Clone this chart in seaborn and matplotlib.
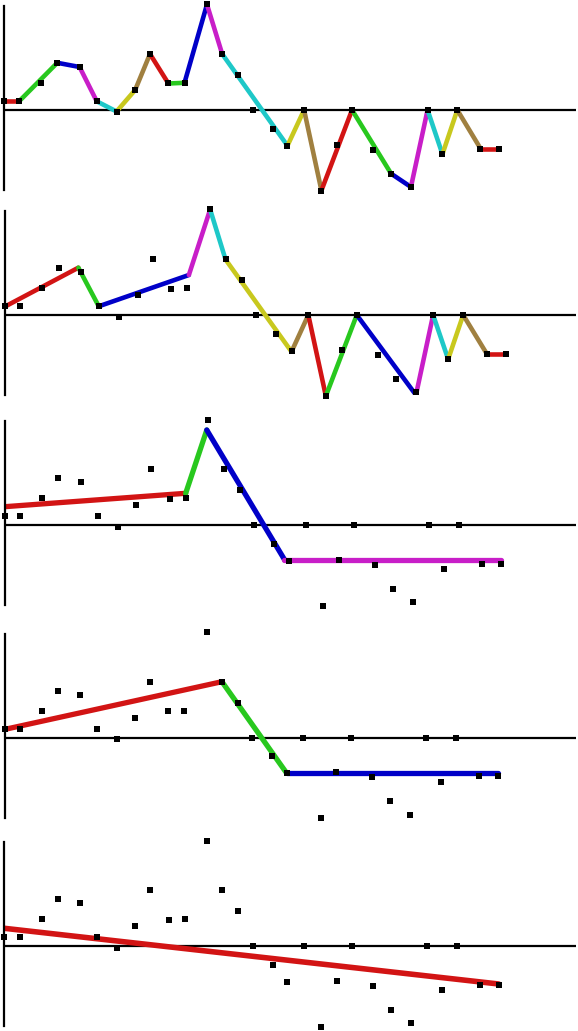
import numpy as np
import pandas as pd
import matplotlib
matplotlib.use("Agg")
import matplotlib.pyplot as plt
import seaborn as sns

# dados originais (tempo irregular)
t = [0, 0.87, 2.11, 3.03, 4.29, 5.26, 6.38, 7.43, 8.27, 9.31, 10.22, 11.49,
     12.35, 13.25, 14.07, 15.2, 16.04, 16.98, 17.96, 18.85, 19.69, 20.88,
     21.9, 23.02, 23.96, 24.8, 25.64, 26.95, 28.02]
y = [0.87, 0.87, 2.72, 4.72, 4.3, 0.87, -0.15, 2.0, 5.6, 2.65, 2.72, 10.55,
     5.6, 3.48, 0, -1.85, -3.57, 0, -8.05, -3.45, 0, -3.95, -6.37, -7.7, 0,
     -4.42, 0, -3.85, -3.85]

# nivel 1: quebras nos proprios pontos
p1_idx = [0, 1, 3, 4, 5, 6, 7, 8, 9, 10, 11, 12, 16, 17, 18, 20, 22, 23, 24,
          25, 26, 27, 28]

# niveis seguintes: quebras (t, y)
p2_t = [0, 4.12, 5.26, 10.3, 11.49, 12.35, 16.04, 16.98, 17.96, 19.69, 23.0,
        23.96, 24.8, 25.64, 26.95, 28.02]
p2_y = [0.83, 4.73, 0.87, 4.0, 10.55, 5.55, -3.67, 0, -8.1, 0, -8.0, 0,
        -4.42, 0, -3.85, -3.85]
p3_t = [0, 10.21, 11.4, 15.78, 28.02]
p3_y = [1.83, 3.17, 9.5, -3.45, -3.45]
p4_t = [0, 12.35, 16.04, 28.02]
p4_y = [0.83, 5.6, -3.57, -3.57]
p5_t = [0, 28.02]
p5_y = [1.77, -3.8]

cores = ["#d21414", "#28c81e", "#0000c8", "#c81ec8", "#1ec8c8", "#c8c81e",
         "#a08040"]

paineis = [
    ([t[i] for i in p1_idx], [y[i] for i in p1_idx]),
    (p2_t, p2_y),
    (p3_t, p3_y),
    (p4_t, p4_y),
    (p5_t, p5_y),
]

# layout em pixels (figura 578x1031)
W, H = 578, 1031
zeros_px = [110, 315, 525, 737.7, 946]
esq_px = [3.7, 4.7, 4.7, 4.7, 4.4]
xmax = [32.35, 31.95, 32.23, 32.48, 32.4]
espessura = [3.3, 3.3, 3.8, 3.8, 4.0]
ymin, ymax = -8.0, 10.4
px_por_unidade = 10

sns.set_style("white")
fig = plt.figure(figsize=(W / 100, H / 100), dpi=100)

for k, (bt, by) in enumerate(paineis):
    topo = zeros_px[k] - ymax * px_por_unidade
    altura = (ymax - ymin) * px_por_unidade
    ax = fig.add_axes([esq_px[k] / W, 1 - (topo + altura) / H,
                       (576 - esq_px[k]) / W, altura / H])

    linhas = []
    for s in range(len(bt) - 1):
        linhas.append({"seg": str(s), "t": bt[s], "y": by[s]})
        linhas.append({"seg": str(s), "t": bt[s + 1], "y": by[s + 1]})
    df = pd.DataFrame(linhas)
    pal = {str(s): cores[s % len(cores)] for s in range(len(bt) - 1)}

    ax.axhline(0, color="black", lw=1.6, zorder=1)
    sns.lineplot(data=df, x="t", y="y", hue="seg", palette=pal, sort=False,
                 estimator=None, legend=False, lw=espessura[k], ax=ax,
                 zorder=2, solid_capstyle="round")
    sns.scatterplot(x=t, y=y, marker="s", color="black", s=16, linewidth=0,
                    ax=ax, zorder=3, clip_on=False)

    ax.set_xlim(0, xmax[k])
    ax.set_ylim(ymin, ymax)
    ax.set_xticks([])
    ax.set_yticks([])
    ax.set_xlabel("")
    ax.set_ylabel("")
    for lado in ["top", "right", "bottom"]:
        ax.spines[lado].set_visible(False)
    ax.spines["left"].set_linewidth(1.6)
    ax.spines["left"].set_color("black")
    ax.patch.set_alpha(0)

fig.savefig("out.png", dpi=100)
